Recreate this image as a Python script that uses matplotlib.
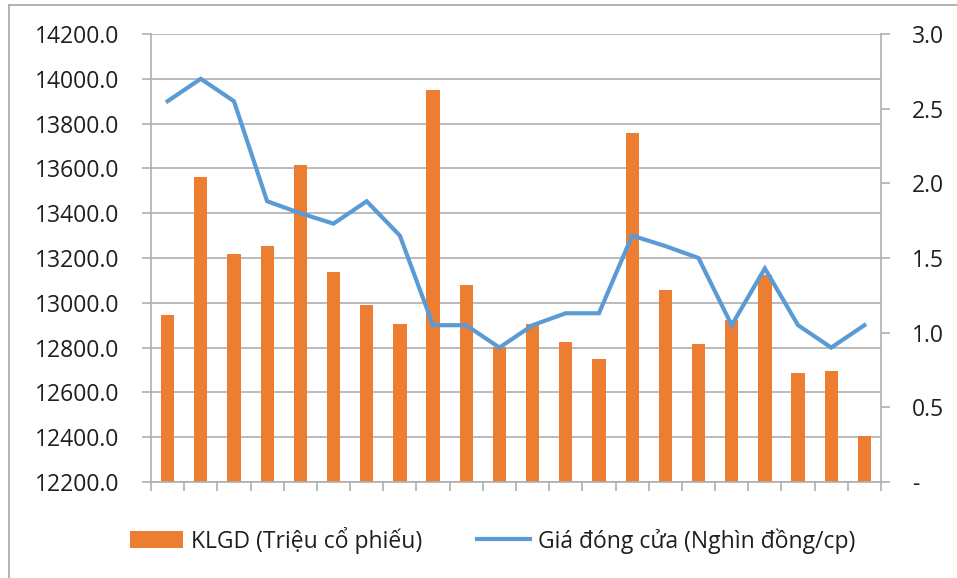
import numpy as np
import matplotlib
matplotlib.use("Agg")
import matplotlib.pyplot as plt
from matplotlib.ticker import FuncFormatter, MultipleLocator
from matplotlib.lines import Line2D

plt.rcParams['font.family'] = ['Open Sans', 'DejaVu Sans']

# KLGD (trieu co phieu) - left axis
volume = [12945, 13560, 13219, 13252, 13614, 13138, 12992, 12905, 13951, 13078,
          12802, 12904, 12825, 12748, 13757, 13059, 12816, 12923, 13123, 12685,
          12697, 12407]
# Gia dong cua (nghin dong/cp) - right axis
price = [2.55, 2.70, 2.55, 1.88, 1.80, 1.73, 1.88, 1.65, 1.05, 1.05,
         0.90, 1.05, 1.13, 1.13, 1.65, 1.58, 1.50, 1.05, 1.43, 1.05,
         0.90, 1.05]
bar_label = "KLGD (Triệu cổ phiếu)"
line_label = "Giá đóng cửa (Nghìn đồng/cp)"

bar_color = '#ED7D31'
line_color = '#5B9BD5'
grid_color = '#AFAFAF'
text_color = '#1F1F1F'
fs = 16.5

x = np.arange(len(volume))

fig = plt.figure(figsize=(9.57, 5.78), dpi=100)
ax = fig.add_axes([151/957, 1 - 482/578, (881 - 151)/957, (482 - 34)/578])

ax.bar(x, np.array(volume) - 12200, bottom=12200, width=0.4, color=bar_color,
       label=bar_label, zorder=2)
ax.set_ylim(12200, 14200)
ax.set_xlim(-0.5, len(volume) - 0.5)
ax.yaxis.set_major_locator(MultipleLocator(200))
ax.yaxis.set_major_formatter(FuncFormatter(lambda v, p: "%.1f" % v))
ax.grid(axis='y', color=grid_color, lw=1.2, zorder=0)
ax.set_axisbelow(True)
ax.set_xticks(np.arange(-0.5, len(volume), 1))
ax.set_xticklabels([])
ax.tick_params(axis='x', length=6.5, width=1.2, color=grid_color, direction='out')
ax.tick_params(axis='y', length=6.5, width=1.2, color=grid_color, pad=16,
               labelsize=fs, labelcolor=text_color)
for s in ['left', 'bottom']:
    ax.spines[s].set_color(grid_color)
    ax.spines[s].set_linewidth(1.2)
ax.spines['top'].set_visible(False)
ax.spines['right'].set_visible(False)

ax2 = ax.twinx()
ax2.plot(x, price, color=line_color, lw=3.0, label=line_label,
         solid_joinstyle='miter', zorder=3)
ax2.set_ylim(0, 3.0)
ax2.yaxis.set_major_locator(MultipleLocator(0.5))
ax2.yaxis.set_major_formatter(FuncFormatter(lambda v, p: "-" if abs(v) < 1e-9 else "%.1f" % v))
ax2.tick_params(axis='y', length=6.5, width=1.2, color=grid_color, pad=16,
                labelsize=fs, labelcolor=text_color)
ax2.spines['right'].set_color(grid_color)
ax2.spines['right'].set_linewidth(1.2)
for s in ['left', 'top', 'bottom']:
    ax2.spines[s].set_visible(False)

h1, l1 = ax.get_legend_handles_labels()
h2, l2 = ax2.get_legend_handles_labels()
leg = fig.legend(h1 + h2, l1 + l2, loc='center', bbox_to_anchor=(0.515, 1 - 540/578),
                 ncol=2, frameon=False, fontsize=fs, handlelength=2.3,
                 handletextpad=0.35, columnspacing=2.4)
for t in leg.get_texts():
    t.set_color(text_color)

# outer chart border (clipped at the image edge)
fig.add_artist(Line2D([8.5/957, 8.5/957], [0, 1 - 4.5/578], color='#A6A6A6', lw=1.2,
                      transform=fig.transFigure))
fig.add_artist(Line2D([8.5/957, 1], [1 - 4.5/578, 1 - 4.5/578], color='#A6A6A6', lw=1.2,
                      transform=fig.transFigure))

fig.savefig("out.png", dpi=100)
